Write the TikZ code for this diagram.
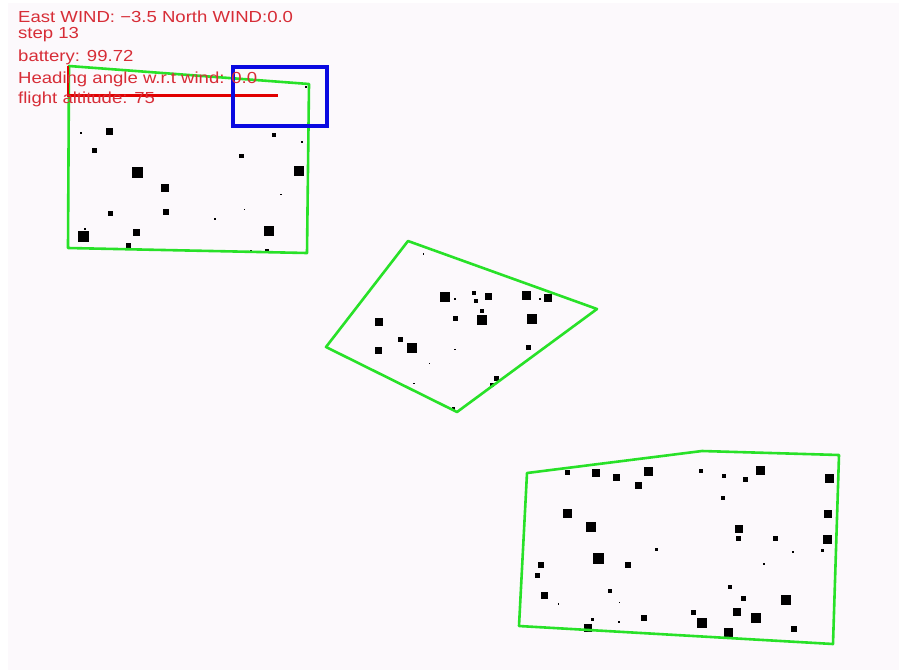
\documentclass[tikz,border=0pt]{standalone}
\usepackage{fontspec}
\newfontfamily\hudfont[FakeStretch=1.16]{Liberation Sans}
\definecolor{bgpink}{RGB}{252,249,252}
\definecolor{hudred}{RGB}{215,45,55}
\definecolor{linered}{RGB}{225,0,0}
\definecolor{zonegreen}{RGB}{40,225,40}
\definecolor{boxblue}{RGB}{10,10,225}
\tikzset{
  zone/.style={draw=zonegreen, line width=2.6pt, line join=round},
  hud/.style={anchor=base west, inner sep=0pt, text=hudred, font=\hudfont\fontsize{16}{16}\selectfont},
}
\newcommand{\obst}[3]{\fill[black] (#1-#3/2,#2-#3/2) rectangle (#1+#3/2,#2+#3/2);}
\begin{document}
\begin{tikzpicture}[x=1pt,y=-1pt]
\useasboundingbox (0,0) rectangle (899,670);
\fill[white] (0,0) rectangle (899,670);
\fill[bgpink] (8,3) rectangle (899,670);

% zone 1
\coordinate (a1) at (69,66);
\coordinate (a2) at (309,84);
\coordinate (a3) at (307,253);
\coordinate (a4) at (68,248);
% zone 2
\coordinate (b1) at (408,241);
\coordinate (b2) at (597,309);
\coordinate (b3) at (457,412);
\coordinate (b4) at (326,347);
% zone 3
\coordinate (c1) at (527,473);
\coordinate (c2) at (702,451);
\coordinate (c3) at (839,455);
\coordinate (c4) at (833,644);
\coordinate (c5) at (519,626);

% obstacles zone 1
\obst{109.5}{131}{7}
\obst{81}{133}{1.5}
\obst{94.5}{150}{5}
\obst{274}{135}{4}
\obst{302}{142}{1.5}
\obst{306}{87}{2}
\obst{241.5}{156}{4.5}
\obst{137.5}{172.5}{11}
\obst{299}{170.5}{10}
\obst{165}{188}{8}
\obst{281}{194.5}{1.5}
\obst{244.5}{209.5}{1.5}
\obst{110.5}{213}{5}
\obst{166}{211.5}{6}
\obst{215}{219}{1.5}
\obst{84.5}{228.5}{2}
\obst{83.5}{236}{11}
\obst{136.5}{232.5}{7}
\obst{269}{231}{10}
\obst{128}{245}{5}
\obst{251}{251}{2}
\obst{266.5}{250.5}{4}

% obstacles zone 2
\obst{423.5}{254}{1.5}
\obst{445}{296.5}{10}
\obst{455}{299}{1.5}
\obst{473.5}{292.5}{4}
\obst{476}{301}{4}
\obst{488.5}{296}{7}
\obst{526.5}{295.5}{9}
\obst{540}{299}{2}
\obst{547.5}{297.5}{8}
\obst{378.5}{321.5}{8}
\obst{455}{318}{5}
\obst{481.5}{311}{4}
\obst{482}{319.5}{10}
\obst{531.5}{319}{10}
\obst{400}{339.5}{5}
\obst{412}{347.5}{10}
\obst{378.5}{350}{7}
\obst{455}{349.5}{1.5}
\obst{528.5}{347.5}{5}
\obst{429.5}{363.5}{1.5}
\obst{496}{378.5}{5}
\obst{492}{385}{4}
\obst{414}{383.5}{1.5}
\obst{453}{408}{3}

% obstacles zone 3
\obst{567.5}{472.5}{5}
\obst{595.5}{473}{8}
\obst{616}{477.5}{7}
\obst{648.5}{471}{9}
\obst{638.5}{485.5}{7}
\obst{701}{470.5}{4}
\obst{723.5}{476}{4}
\obst{745}{479.5}{5}
\obst{760}{470}{9}
\obst{829}{478.5}{9}
\obst{722.5}{497.5}{4}
\obst{567.5}{513.5}{9}
\obst{590.5}{527}{10}
\obst{827.5}{514}{8}
\obst{738.5}{529}{8}
\obst{738.5}{538.5}{5}
\obst{775}{538.5}{5}
\obst{827}{539.5}{9}
\obst{656}{549.5}{3}
\obst{793}{552}{2}
\obst{822.5}{550.5}{3}
\obst{598.5}{558.5}{11}
\obst{540.5}{565}{6}
\obst{627.5}{565}{6}
\obst{764}{563.5}{2}
\obst{537}{575.5}{5}
\obst{609.5}{591}{4}
\obst{544.5}{595}{7}
\obst{558.5}{604}{1.5}
\obst{619.5}{602.5}{1.5}
\obst{730}{586.5}{4}
\obst{743.5}{598.5}{5}
\obst{786}{599.5}{10}
\obst{736.5}{611.5}{8}
\obst{693}{612}{5}
\obst{756}{618}{10}
\obst{702}{622.5}{10}
\obst{643.5}{618}{6}
\obst{592.5}{619}{3}
\obst{619}{621.5}{2}
\obst{587.5}{627.5}{8}
\obst{728.5}{632.5}{9}
\obst{794}{629}{6}

% zones
\draw[zone] (a1) -- (a2) -- (a3) -- (a4) -- cycle;
\draw[zone] (b1) -- (b2) -- (b3) -- (b4) -- cycle;
\draw[zone] (c1) -- (c2) -- (c3) -- (c4) -- (c5) -- cycle;

% heading line
\coordinate (h0) at (68,66);
\coordinate (h1) at (68,95.5);
\coordinate (h2) at (278,95.5);
\draw[linered, line width=2.6pt] (h0) -- (h1) -- (h2);

% blue box
\node[draw=boxblue, line width=4pt, minimum width=94pt, minimum height=59pt, inner sep=0pt, anchor=north west] (drone) at (231,65) {};

% HUD text
\node[hud] (t1) at (18,22) {East WIND: −3.5 North WIND:0.0};
\node[hud] (t2) at (18,38.5) {step 13};
\node[hud] (t3) at (18,61) {battery: 99.72};
\node[hud] (t4) at (18,83) {Heading angle w.r.t wind: 0.0};
\node[hud] (t5) at (18,103.5) {flight altitude: 75};
\end{tikzpicture}
\end{document}
